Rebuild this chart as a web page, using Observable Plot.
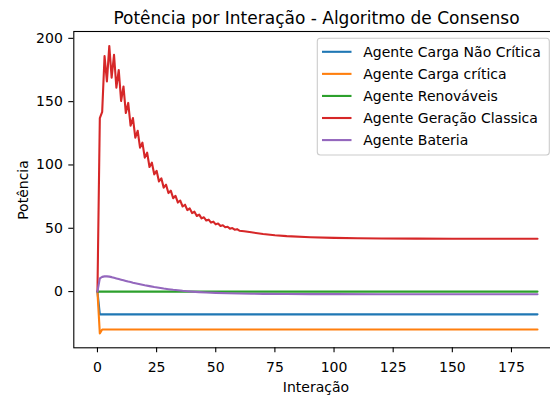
<!DOCTYPE html>
<html>
<head>
<meta charset="utf-8">
<script src="https://cdn.jsdelivr.net/npm/d3@7"></script>
<script src="https://cdn.jsdelivr.net/npm/@observablehq/plot@0.6"></script>
<style>
  html, body { margin: 0; padding: 0; background: #fff; overflow: hidden; }
  #chart { width: 550px; height: 396px; }
</style>
</head>
<body>
<div id="chart"></div>
<script>
// Agents and their line colours
const agentes = [
  "Agente Carga Não Crítica",
  "Agente Carga crítica",
  "Agente Renováveis",
  "Agente Geração Classica",
  "Agente Bateria"
];
const cores = ["#1f77b4", "#ff7f0e", "#2ca02c", "#d62728", "#9467bd"];

// Power per consensus iteration, one pair of arrays per agent
const cargaNaoCriticaX = [0, 1, 186];
const cargaNaoCriticaY = [0, -18, -18];

const cargaCriticaX = [0, 1, 2, 186];
const cargaCriticaY = [0, -33, -30, -30];

const renovaveisX = [0, 186];
const renovaveisY = [0, 0];

const geracaoX = [
  0, 1, 2, 3, 4, 5, 6, 7, 8, 9, 10, 11, 12, 13, 14, 15, 16, 17, 18, 19,
  20, 21, 22, 23, 24, 25, 26, 27, 28, 29, 30, 31, 32, 33, 34, 35, 36, 37, 38, 39,
  40, 41, 42, 43, 44, 45, 46, 47, 48, 49, 50, 51, 52, 53, 54, 55, 56, 57, 58, 59,
  60, 62, 65, 70, 75, 80, 90, 100, 110, 120, 135, 150, 186
];
const geracaoY = [
  0, 137, 142, 186, 166, 194, 169, 187, 161, 175, 150.5, 162, 141, 149, 131, 137, 121.5, 127, 113.7, 117.6,
  105.8, 109.7, 98.4, 101.8, 92.6, 95.4, 87.0, 89.5, 82.1, 84.4, 77.8, 79.7, 73.8, 75.6, 70.3, 71.9, 67.2, 68.6, 64.4, 65.7,
  62.0, 63.1, 59.7, 60.8, 57.8, 58.7, 56.1, 56.8, 54.5, 55.2, 53.1, 53.7, 51.8, 52.4, 50.8, 51.2, 49.7, 50.2, 48.9, 49.3,
  48.1, 47.7, 46.8, 45.5, 44.5, 43.8, 42.9, 42.4, 42.1, 41.9, 41.8, 41.7, 41.7
];

const bateriaX = [
  0, 1, 2, 3, 4, 5, 6, 7, 8, 9, 10, 11, 12, 13, 14, 15, 16, 17, 18, 19,
  20, 22, 24, 26, 28, 30, 32, 34, 36, 38, 40, 43, 46, 50, 55, 60, 65, 70, 80, 90,
  100, 120, 150, 186
];
const bateriaY = [
  0, 10.5, 11.6, 12.0, 12.0, 11.8, 11.4, 10.9, 10.4, 9.9, 9.4, 8.9, 8.4, 7.9, 7.5, 7.0, 6.6, 6.2, 5.8, 5.4,
  5.0, 4.3, 3.6, 3.0, 2.4, 1.9, 1.4, 1.0, 0.6, 0.3, 0.0, -0.4, -0.7, -1.0, -1.3, -1.5, -1.7, -1.8, -1.9, -2.0,
  -2.0, -2.1, -2.1, -2.1
];

// Axis ticks
const xTicks = [0, 25, 50, 75, 100, 125, 150, 175];
const yTicks = [0, 50, 100, 150, 200];

const series = [
  {nome: agentes[0], x: cargaNaoCriticaX, y: cargaNaoCriticaY},
  {nome: agentes[1], x: cargaCriticaX, y: cargaCriticaY},
  {nome: agentes[2], x: renovaveisX, y: renovaveisY},
  {nome: agentes[3], x: geracaoX, y: geracaoY},
  {nome: agentes[4], x: bateriaX, y: bateriaY}
];
const linhas = series.flatMap((s) =>
  s.x.map((it, i) => ({agente: s.nome, iteracao: it, potencia: s.y[i]}))
);

const fonte = "'DejaVu Sans', 'Liberation Sans', sans-serif";

const svg = Plot.plot({
  width: 550,
  height: 396,
  marginLeft: 73.3,
  marginRight: -9,
  marginTop: 31,
  marginBottom: 48.7,
  style: {fontFamily: fonte, fontSize: "14px", background: "white", color: "black", overflow: "hidden"},
  x: {domain: [-10, 195.3]},
  y: {domain: [-44.4, 205.4]},
  color: {domain: agentes, range: cores},
  marks: [
    Plot.line(linhas, {x: "iteracao", y: "potencia", z: "agente", stroke: "agente", strokeWidth: 2.1}),
    Plot.frame({stroke: "black", strokeWidth: 1.1}),
    Plot.axisX({ticks: xTicks, tickSize: 5, tickPadding: 9.5, label: null, fontSize: 14, strokeWidth: 1.1}),
    Plot.axisY({ticks: yTicks, tickSize: 5, tickPadding: 6, label: null, fontSize: 14, strokeWidth: 1.1})
  ]
});

const root = d3.select(svg);

// Title and axis labels
root.append("text")
  .attr("x", 316.5).attr("y", 23.9)
  .attr("text-anchor", "middle")
  .style("font-family", fonte).style("font-size", "17px").attr("fill", "black")
  .text("Potência por Interação - Algoritmo de Consenso");

root.append("text")
  .attr("x", 316).attr("y", 392)
  .attr("text-anchor", "middle")
  .style("font-family", fonte).style("font-size", "14px").attr("fill", "black")
  .text("Interação");

root.append("text")
  .attr("transform", "translate(28.3,190) rotate(-90)")
  .attr("text-anchor", "middle")
  .style("font-family", fonte).style("font-size", "14px").attr("fill", "black")
  .text("Potência");

// Legend box in the upper right corner
const legenda = root.append("g").attr("text-anchor", "start");
legenda.append("rect")
  .attr("x", 317.3).attr("y", 38.3)
  .attr("width", 232).attr("height", 116.7)
  .attr("rx", 3).attr("ry", 3)
  .attr("fill", "white").attr("fill-opacity", 0.8)
  .attr("stroke", "#cccccc").attr("stroke-width", 1.1);

agentes.forEach((nome, i) => {
  const cy = 51.8 + 22.07 * i;
  legenda.append("line")
    .attr("x1", 322).attr("x2", 351.5)
    .attr("y1", cy).attr("y2", cy)
    .attr("stroke", cores[i]).attr("stroke-width", 2.1);
  legenda.append("text")
    .attr("x", 363.3).attr("y", cy + 5.4)
    .attr("text-anchor", "start")
    .style("font-family", fonte).style("font-size", "14px").attr("fill", "black")
    .text(nome);
});

document.getElementById("chart").appendChild(svg);
</script>
</body>
</html>
